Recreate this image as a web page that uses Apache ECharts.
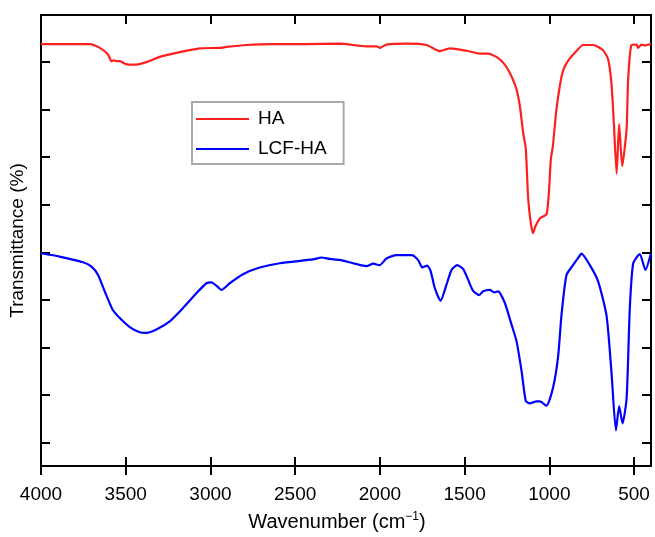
<!DOCTYPE html>
<html>
<head>
<meta charset="utf-8">
<script src="https://cdn.jsdelivr.net/npm/echarts@6/dist/echarts.min.js"></script>
<style>
html,body{margin:0;padding:0;background:#fff;}
#chart{width:655px;height:537px;}
</style>
</head>
<body>
<div id="chart"></div>
<script>
// Wavenumber (cm-1) and transmittance (arbitrary units, one y tick = 1)
const haWave = [4000,3712,3653,3604,3584,3571,3553,3535,3512,3500,3486,3437,3378,3299,3181,3063,2945,2906,2788,2632,2433,2237,2079,2018,2001,1961,1843,1725,1646,1587,1489,1410,1361,1312,1263,1223,1194,1174,1155,1139,1125,1109,1096,1083,1056,1027,1015,1003,991,979,958,928,909,879,844,801,742,683,653,633,619,603,588,570,544,535,515,485,476,456,436,401];
const haT =    [8.37,8.37,8.29,8.15,8.01,8.03,8.01,8.01,7.97,7.95,7.94,7.94,7.99,8.10,8.20,8.28,8.29,8.31,8.35,8.37,8.37,8.38,8.32,8.32,8.29,8.36,8.38,8.35,8.22,8.28,8.23,8.17,8.17,8.10,7.94,7.69,7.42,7.07,6.52,6.17,5.13,4.60,4.40,4.54,4.71,4.77,4.81,5.23,5.96,6.23,7.00,7.69,7.90,8.07,8.21,8.35,8.35,8.24,8.05,7.53,6.69,5.65,6.69,5.81,6.59,7.63,8.35,8.36,8.29,8.36,8.34,8.37];

const lcfWave = [4000,3890,3752,3702,3664,3624,3578,3535,3476,3417,3378,3319,3240,3162,3083,3024,2994,2965,2935,2886,2808,2709,2591,2394,2345,2296,2237,2158,2079,2040,2001,1961,1902,1813,1775,1749,1721,1701,1676,1642,1607,1577,1544,1509,1479,1450,1414,1391,1351,1326,1302,1263,1223,1194,1164,1139,1115,1076,1056,1017,978,948,928,899,860,832,810,761,712,662,633,607,588,568,544,525,505,466,433,401];
const lcfT =    [3.98,3.91,3.79,3.70,3.53,3.18,2.80,2.62,2.43,2.32,2.31,2.38,2.55,2.83,3.14,3.35,3.37,3.30,3.21,3.35,3.54,3.68,3.77,3.85,3.89,3.86,3.84,3.77,3.71,3.76,3.73,3.87,3.94,3.94,3.84,3.68,3.72,3.61,3.25,2.98,3.32,3.63,3.73,3.65,3.42,3.19,3.10,3.18,3.21,3.16,3.18,2.94,2.48,2.14,1.51,0.88,0.83,0.87,0.87,0.78,1.16,1.82,2.69,3.52,3.73,3.87,3.97,3.73,3.39,2.66,1.47,0.26,0.77,0.41,0.93,2.83,3.77,3.96,3.63,3.97];

const xTicks = [500,1000,1500,2000,2500,3000,3500,4000];
const yTicks = [0,1,2,3,4,5,6,7,8];
const seriesNames = ['HA','LCF-HA'];

const pairs = (w, t) => w.map((x, i) => [x, t[i]]);
const FONT = 'Liberation Sans, Arial, Helvetica, sans-serif';
const axisLine = { show: true, onZero: false, lineStyle: { color: '#000', width: 2 } };

const chart = echarts.init(document.getElementById('chart'));
chart.setOption({
  animation: false,
  backgroundColor: '#fff',
  grid: { left: 41, right: 4, top: 15, bottom: 68 },
  legend: {
    data: seriesNames,
    orient: 'vertical',
    left: 192,
    top: 102,
    itemWidth: 53,
    itemHeight: 20,
    itemGap: 10,
    padding: [7, 17, 5, 3],
    borderColor: '#a8a8a8',
    borderWidth: 2,
    itemStyle: { opacity: 0 },
    textStyle: { fontFamily: FONT, fontSize: 19, color: '#000', lineHeight: 20, padding: [0, 0, 0, 4] }
  },
  xAxis: [
    {
      type: 'value', position: 'bottom', inverse: true, min: 400, max: 4000,
      axisLine: axisLine,
      axisTick: { show: true, inside: true, length: 9, customValues: xTicks, lineStyle: { color: '#000', width: 2 } },
      axisLabel: { show: true, customValues: xTicks, formatter: v => String(v), fontFamily: FONT, fontSize: 19, color: '#000', margin: 19 },
      splitLine: { show: false },
      name: '{a|Wavenumber (cm}{s|−1}{a|)}',
      nameLocation: 'middle',
      nameGap: 45,
      nameTextStyle: {
        padding: [0, 18, 0, 0],
        rich: {
          a: { fontFamily: FONT, fontSize: 20, color: '#000', lineHeight: 22 },
          s: { fontFamily: FONT, fontSize: 12, color: '#000', lineHeight: 22, verticalAlign: 'top', padding: [0, 0, 8, 0] }
        }
      }
    },
    {
      type: 'value', position: 'bottom', inverse: true, min: 400, max: 4000,
      axisLine: { show: false, onZero: false },
      axisTick: { show: true, inside: false, length: 9, customValues: xTicks, lineStyle: { color: '#000', width: 2 } },
      axisLabel: { show: false },
      splitLine: { show: false }
    },
    {
      type: 'value', position: 'top', inverse: true, min: 400, max: 4000,
      axisLine: axisLine,
      axisTick: { show: true, inside: true, length: 9, customValues: xTicks, lineStyle: { color: '#000', width: 2 } },
      axisLabel: { show: false },
      splitLine: { show: false }
    }
  ],
  yAxis: [
    {
      type: 'value', position: 'left', min: -0.486, max: 8.98,
      axisLine: axisLine,
      axisTick: { show: true, inside: true, length: 9, customValues: yTicks, lineStyle: { color: '#000', width: 2 } },
      axisLabel: { show: false },
      splitLine: { show: false },
      name: 'Transmittance (%)',
      nameLocation: 'middle',
      nameGap: 14,
      nameTextStyle: { fontFamily: FONT, fontSize: 19, color: '#000' }
    },
    {
      type: 'value', position: 'right', min: -0.486, max: 8.98,
      axisLine: axisLine,
      axisTick: { show: true, inside: true, length: 9, customValues: yTicks, lineStyle: { color: '#000', width: 2 } },
      axisLabel: { show: false },
      splitLine: { show: false }
    }
  ],
  series: [
    {
      name: seriesNames[0], type: 'line', xAxisIndex: 0, yAxisIndex: 0,
      data: pairs(haWave, haT), symbol: 'none', smooth: 0.2,
      lineStyle: { color: '#ff1f1f', width: 2.2 }, itemStyle: { color: '#ff1f1f' }
    },
    {
      name: seriesNames[1], type: 'line', xAxisIndex: 0, yAxisIndex: 0,
      data: pairs(lcfWave, lcfT), symbol: 'none', smooth: 0.2,
      lineStyle: { color: '#0000ff', width: 2.2 }, itemStyle: { color: '#0000ff' }
    }
  ]
});
</script>
</body>
</html>
